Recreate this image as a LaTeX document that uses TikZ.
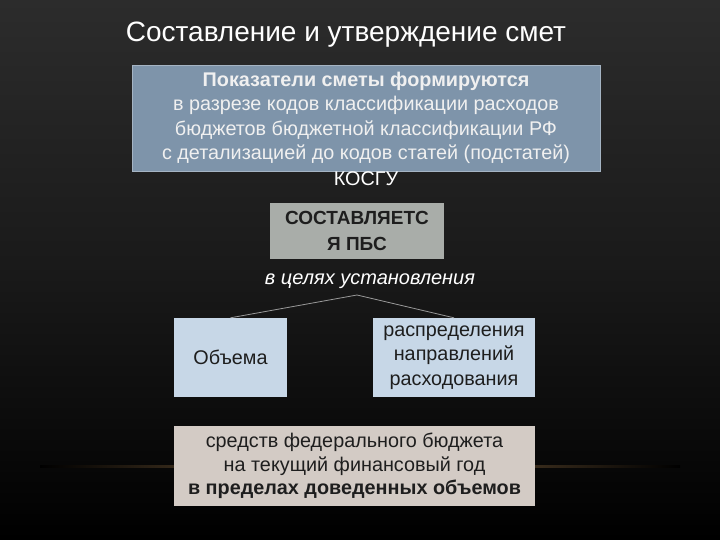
\documentclass[tikz,border=0pt]{standalone}
\usepackage{fontspec}
\setmainfont{Liberation Sans}
\definecolor{slideTop}{HTML}{2C2C2C}
\definecolor{steelBox}{HTML}{7E94AA}
\definecolor{grayBox}{HTML}{A9ADA9}
\definecolor{lightBlue}{HTML}{C7D7E7}
\definecolor{beigeBox}{HTML}{D3CBC5}
\definecolor{darkText}{HTML}{1E1E1E}
\definecolor{glowLine}{HTML}{7A5E3C}
\begin{document}
\begin{tikzpicture}
[x=1pt,y=-1pt,
  boxDecorate/.style={shape=rectangle,inner sep=0pt,align=center,text=darkText},
  lineDecorate/.style={draw=gray!80,thick},
  bodyFont/.style={font=\fontsize{19.8}{24.5}\selectfont}]
%% background
\shade[top color=slideTop,bottom color=black,middle color=black!90]
  (0,0) rectangle (720,540);
\useasboundingbox (0,0) rectangle (720,540);
\shade[left color=black,right color=black,middle color=glowLine]
  (40,465) rectangle (680,467.5);
%% title
\node (title) at (346,35) [text=white,font=\fontsize{28}{32}\selectfont] {Составление и утверждение смет};
%% boxes
\node (indicators) at (366,118) [boxDecorate,bodyFont,fill=steelBox,draw=steelBox!70!white,
  minimum width=468,minimum height=106,text=white!94!black]
  {\textbf{Показатели сметы формируются}\\в разрезе кодов классификации расходов\\
   бюджетов бюджетной классификации РФ\\с детализацией до кодов статей (подстатей)};
\node (kosgu) at (366,179) [text=white,bodyFont] {КОСГУ};
\node (pbs) at (357,231) [boxDecorate,fill=grayBox,minimum width=174,minimum height=56,
  font=\fontsize{19}{26}\selectfont\bfseries] {СОСТАВЛЯЕТС\\Я ПБС};
\node (goal) at (370,281) [text=white,font=\fontsize{20}{22}\selectfont\itshape] {в целях установления};
\coordinate (apex) at (357,295);
\node (volume) at (230.5,357.5) [boxDecorate,bodyFont,fill=lightBlue,
  minimum width=113,minimum height=79] {Объема};
\node (distrib) at (454,357.5) [boxDecorate,bodyFont,fill=lightBlue,
  minimum width=162,minimum height=79] {распределения\\направлений\\расходования};
\node (funds) at (354.5,466) [boxDecorate,fill=beigeBox,minimum width=361,minimum height=80,
  font=\fontsize{19.8}{23.5}\selectfont]
  {средств федерального бюджета\\на текущий финансовый год\\\textbf{в пределах доведенных объемов}};
%% lines
\path
\foreach \endnode in {volume, distrib}
{
  (apex) edge[lineDecorate] (\endnode.north)
};
\end{tikzpicture}
\end{document}
